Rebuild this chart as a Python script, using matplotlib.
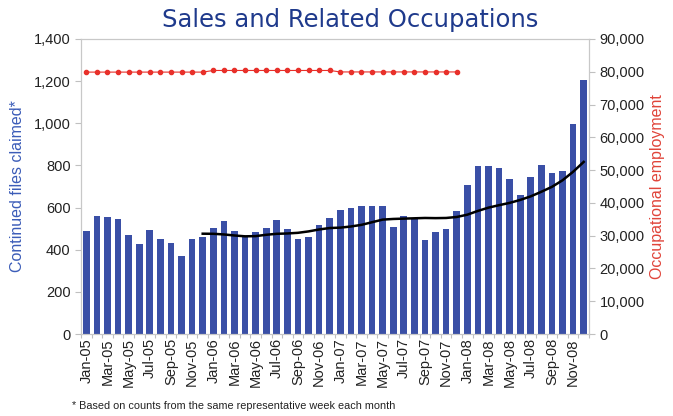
import matplotlib
matplotlib.use("Agg")
import matplotlib.pyplot as plt
import numpy as np

months = ["Jan-05","Feb-05","Mar-05","Apr-05","May-05","Jun-05","Jul-05","Aug-05","Sep-05","Oct-05","Nov-05","Dec-05",
          "Jan-06","Feb-06","Mar-06","Apr-06","May-06","Jun-06","Jul-06","Aug-06","Sep-06","Oct-06","Nov-06","Dec-06",
          "Jan-07","Feb-07","Mar-07","Apr-07","May-07","Jun-07","Jul-07","Aug-07","Sep-07","Oct-07","Nov-07","Dec-07",
          "Jan-08","Feb-08","Mar-08","Apr-08","May-08","Jun-08","Jul-08","Aug-08","Sep-08","Oct-08","Nov-08","Dec-08"]

claims = [488, 561, 554, 545, 472, 427, 493, 452, 433, 372, 450, 458,
          502, 537, 487, 460, 485, 502, 539, 499, 450, 458, 517, 550,
          589, 597, 606, 606, 606, 507, 559, 545, 447, 482, 498, 582,
          707, 797, 797, 789, 735, 660, 743, 800, 766, 775, 995, 1205]

# trend line (right axis), Dec-05 .. Dec-08
trend_start = 11
trend = [30600, 30570, 30370, 30060, 29800, 29860, 30270, 30570, 30670, 30870, 31300, 31890, 32330,
         32450, 32800, 33300, 34100, 34900, 35100, 35200, 35300, 35400, 35350, 35400, 35700,
         36400, 37550, 38550, 39300, 40000, 40900, 42000, 43400, 44900, 46900, 49500, 52500]

# occupational employment (right axis), Jan-05 .. Dec-07
employment = [79900]*12 + [80400]*12 + [79950]*12

tick_labels = months[::2]

bar_color = "#3a4fa6"
fig = plt.figure(figsize=(6.73, 4.16), dpi=100)
ax = fig.add_axes([81/673, 1-334/416, (589-81)/673, (334-39)/416])
ax2 = ax.twinx()

x = np.arange(len(months))
ax.bar(x, claims, width=0.63, color=bar_color, zorder=2)
ax.set_xlim(-0.5, len(months)-0.5)
ax.set_ylim(0, 1400)
ax.set_yticks(np.arange(0, 1401, 200))
ax.set_yticklabels([f"{v:,}" for v in range(0, 1401, 200)])
ax.set_xticks(x[::2])
ax.set_xticklabels(tick_labels, rotation=90)
ax.set_xticks(np.arange(-0.5, len(months), 1), minor=True)

ax2.set_ylim(0, 90000)
ax2.set_yticks(np.arange(0, 90001, 10000))
ax2.set_yticklabels([f"{v:,}" for v in range(0, 90001, 10000)])

ax2.plot(x[trend_start:trend_start+len(trend)], trend, color="black", lw=1.8, zorder=3)
ax2.plot(x[:len(employment)], employment, color="#e8302a", lw=0.8, marker="o", ms=3,
         markerfacecolor="#e8302a", markeredgecolor="#e8302a", zorder=3)

font = "Liberation Sans"
for a in (ax, ax2):
    for s in a.spines.values():
        s.set_color("#c8c8c8")
        s.set_linewidth(0.8)
    a.tick_params(axis="both", which="both", colors="#c0c0c0", labelcolor="#222222", length=4, width=0.8)
    for lab in a.get_yticklabels():
        lab.set_fontfamily(font)
        lab.set_fontsize(10.5)
ax.tick_params(axis="x", which="major", length=0, pad=3)
ax.tick_params(axis="x", which="minor", length=3)
for lab in ax.get_xticklabels():
    lab.set_fontfamily(font)
    lab.set_fontsize(10.5)

ax.set_ylabel("Continued files claimed*", color="#3b5cb8", fontsize=11.5, fontfamily=font, labelpad=6)
ax2.set_ylabel("Occupational employment", color="#e0443a", fontsize=11.5, fontfamily=font, labelpad=4)

fig.text(350/673, 1-20/416, "Sales and Related Occupations", ha="center", va="center",
         fontsize=17.5, color="#1f3a8c", fontfamily="DejaVu Sans")
fig.text(72/673, 1-406/416, "* Based on counts from the same representative week each month",
         ha="left", va="center", fontsize=7.8, color="#222222", fontfamily=font)

fig.savefig("out.png", dpi=100)
